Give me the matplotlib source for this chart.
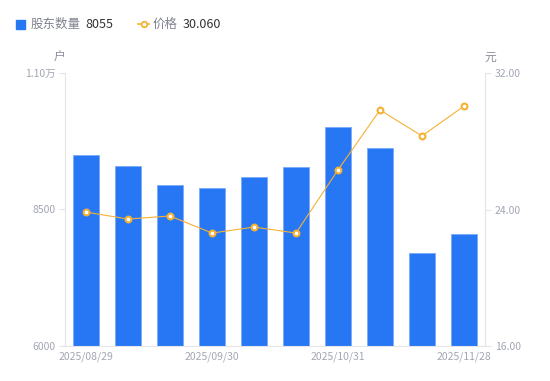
import matplotlib
matplotlib.use("Agg")
import matplotlib.pyplot as plt
from matplotlib.ticker import FixedLocator, FuncFormatter
from matplotlib.lines import Line2D

plt.rcParams['font.family'] = ['Noto Sans CJK SC', 'DejaVu Sans']

dates = ["2025/08/29", "2025/09/10", "2025/09/19", "2025/09/30", "2025/10/10",
         "2025/10/20", "2025/10/31", "2025/11/10", "2025/11/20", "2025/11/28"]
holders = [9500, 9300, 8950, 8895, 9095, 9280, 10010, 9625, 7705, 8055]
price = [23.85, 23.44, 23.62, 22.62, 22.97, 22.62, 26.32, 29.83, 28.31, 30.06]
left_ticks = [6000, 8500, 11000]
right_ticks = [16.0, 24.0, 32.0]
shown_labels = [0, 3, 6, 9]

BLUE = "#2777f5"
ORANGE = "#f5b133"
GRAY = "#a3a6b4"
AXIS = "#e3e5ea"

fig = plt.figure(figsize=(5.5, 3.81), dpi=100)
ax = fig.add_axes([65/550, 35/381, 420/550, 273/381])
ax2 = ax.twinx()

x = list(range(len(dates)))
ax.bar(x, holders, width=0.6, color=BLUE, edgecolor="#7aaaf8", linewidth=0.6, zorder=2)
ax.set_xlim(-0.5, len(dates) - 0.5)
ax.set_ylim(6000, 11000)
ax2.set_ylim(16, 32)

ax2.plot(x, price, color=ORANGE, linewidth=0.8, marker="o", markersize=4.2,
         markerfacecolor="white", markeredgecolor=ORANGE, markeredgewidth=1.5, zorder=3)

def lfmt(v, pos):
    if v >= 10000:
        return f"{v/10000:.2f}万"
    return f"{int(v)}"

ax.yaxis.set_major_locator(FixedLocator(left_ticks))
ax.yaxis.set_major_formatter(FuncFormatter(lfmt))
ax2.yaxis.set_major_locator(FixedLocator(right_ticks))
ax2.yaxis.set_major_formatter(FuncFormatter(lambda v, p: f"{v:.2f}"))

ax.set_xticks([x[i] for i in shown_labels])
ax.set_xticklabels([dates[i] for i in shown_labels])

for a in (ax, ax2):
    for s in a.spines.values():
        s.set_visible(False)
ax.spines['left'].set_visible(True)
ax.spines['left'].set_color(AXIS)
ax.spines['bottom'].set_visible(True)
ax.spines['bottom'].set_color(AXIS)
ax2.spines['right'].set_visible(True)
ax2.spines['right'].set_color(AXIS)

ax.tick_params(axis='y', colors=GRAY, labelsize=7.5, length=4, width=0.8, pad=3,
               color=AXIS)
ax.tick_params(axis='x', colors=GRAY, labelsize=7.5, length=0, pad=4)
ax2.tick_params(axis='y', colors=GRAY, labelsize=7.5, length=4, width=0.8, pad=3,
                color=AXIS)
for lbl in ax.get_yticklabels() + ax2.get_yticklabels() + ax.get_xticklabels():
    lbl.set_color(GRAY)

fig.text(59/550, 1 - 57/381, "户", ha="center", va="center", fontsize=8.5, color="#8a8d99")
fig.text(490/550, 1 - 57/381, "元", ha="center", va="center", fontsize=8.5, color="#8a8d99")

# legend
ly = 1 - 24/381
fig.patches.append(plt.Rectangle((16/550, ly - 4.5/381), 9/550, 9/381,
                                 transform=fig.transFigure, color=BLUE, figure=fig))
fig.text(31/550, ly, "股东数量", ha="left", va="center", fontsize=9, color="#80838f")
fig.text(85/550, ly, f"{holders[-1]}", ha="left", va="center", fontsize=9, color="#333333")
fig.lines.append(Line2D([138/550, 149/550], [ly, ly], transform=fig.transFigure,
                        color=ORANGE, linewidth=1.2, figure=fig))
fig.lines.append(Line2D([143.5/550], [ly], transform=fig.transFigure, marker="o",
                        markersize=4, markerfacecolor="white", markeredgecolor=ORANGE,
                        markeredgewidth=1.3, color=ORANGE, figure=fig))
fig.text(153/550, ly, "价格", ha="left", va="center", fontsize=9, color="#80838f")
fig.text(183/550, ly, f"{price[-1]:.3f}", ha="left", va="center", fontsize=9, color="#333333")

fig.savefig("out.png", dpi=100)
